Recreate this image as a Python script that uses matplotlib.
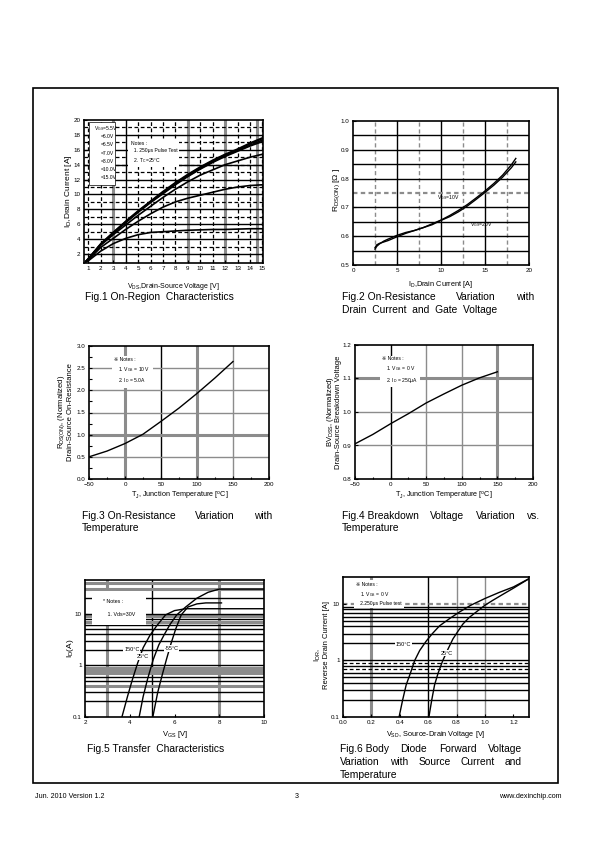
import matplotlib
matplotlib.use('Agg')
import matplotlib.pyplot as plt
import numpy as np

plt.rcParams['font.family'] = ['Liberation Sans', 'DejaVu Sans']
plt.rcParams['mathtext.fontset'] = 'custom'
plt.rcParams['mathtext.rm'] = 'Liberation Sans'
plt.rcParams['mathtext.it'] = 'Liberation Sans'
plt.rcParams['mathtext.default'] = 'regular'

# ---------------- data ----------------
# Fig.1 On-region characteristics
f1_vds = [0.8, 1, 2, 3, 4, 5, 6, 7, 8, 9, 10, 11, 12, 13, 14, 15]
f1_vgs15 = [1.0, 1.4, 3.4, 4.9, 6.4, 7.8, 9.1, 10.4, 11.6, 12.7, 13.7, 14.6, 15.4, 16.1, 16.9, 17.6]
f1_vgs10 = [1.0, 1.4, 3.3, 4.9, 6.3, 7.7, 9.0, 10.3, 11.5, 12.6, 13.6, 14.5, 15.3, 16.0, 16.8, 17.5]
f1_vgs8 = [1.0, 1.3, 3.3, 4.8, 6.3, 7.7, 9.0, 10.2, 11.4, 12.5, 13.5, 14.4, 15.2, 15.9, 16.6, 17.3]
f1_vgs7 = [1.0, 1.3, 3.3, 4.8, 6.2, 7.6, 8.9, 10.1, 11.3, 12.4, 13.4, 14.3, 15.1, 15.8, 16.5, 17.1]
f1_vgs65 = [1.0, 1.3, 3.2, 4.6, 5.9, 7.2, 8.4, 9.6, 10.7, 11.7, 12.6, 13.3, 14.0, 14.5, 15.0, 15.4]
f1_vgs6 = [1.0, 1.2, 2.9, 4.1, 5.3, 6.4, 7.4, 8.3, 9.0, 9.5, 9.9, 10.3, 10.7, 11.0, 11.2, 11.3]
f1_vgs55 = [1.0, 1.1, 2.4, 3.4, 4.1, 4.6, 4.9, 5.0, 5.1, 5.2, 5.25, 5.3, 5.3, 5.35, 5.4, 5.4]
f1_legend = ['=5.5V', '=6.0V', '=6.5V', '=7.0V', '=8.0V', '=10.0V', '=15.0V']

# Fig.2 On-resistance vs drain current
f2_id = [2.5, 2.7, 3, 3.5, 4, 5, 6, 7, 8, 9, 10, 11, 12, 13, 14, 15, 16, 17, 18, 18.5]
f2_r10 = [0.56, 0.57, 0.575, 0.58, 0.585, 0.598, 0.61, 0.62, 0.63, 0.643, 0.656, 0.672,
          0.69, 0.71, 0.733, 0.757, 0.783, 0.812, 0.848, 0.87]
f2_r20 = [0.555, 0.565, 0.573, 0.583, 0.59, 0.603, 0.613, 0.62, 0.63, 0.64, 0.655, 0.668,
          0.685, 0.705, 0.728, 0.752, 0.777, 0.805, 0.838, 0.858]

# Fig.3 / Fig.4 vs temperature
f34_tj = [-50, -25, 0, 25, 50, 75, 100, 125, 150]
f3_rn = [0.5, 0.63, 0.8, 1.01, 1.3, 1.6, 1.93, 2.28, 2.65]
f4_bv = [0.905, 0.933, 0.965, 0.995, 1.027, 1.054, 1.08, 1.102, 1.12]

# Fig.5 Transfer characteristics
f5_v150 = [3.65, 3.9, 4.1, 4.35, 4.6, 4.9, 5.2, 5.6, 6.0, 6.5, 10.0]
f5_i150 = [0.1, 0.25, 0.5, 1.1, 2.2, 3.8, 5.8, 9.5, 11.5, 12.5, 12.5]
f5_v25 = [4.42, 4.6, 4.8, 5.05, 5.3, 5.55, 5.8, 6.1, 6.5, 7.0, 7.5, 8.0, 10.0]
f5_i25 = [0.1, 0.25, 0.55, 1.3, 2.5, 4.0, 6.2, 9.5, 13.5, 20, 26, 30, 30]
f5_v55 = [5.03, 5.25, 5.45, 5.65, 5.85, 6.05, 6.3, 6.6, 7.0, 7.4, 8.1]
f5_i55 = [0.1, 0.3, 0.65, 1.35, 2.7, 5.0, 9.5, 13.5, 15.5, 16.2, 16.2]

# Fig.6 Body diode forward voltage
f6_v150 = [0.395, 0.42, 0.445, 0.475, 0.505, 0.54, 0.586, 0.63, 0.68, 0.75, 0.82, 0.9, 1.0, 1.1, 1.2, 1.31]
f6_i150 = [0.1, 0.2, 0.37, 0.6, 1.0, 1.5, 2.2, 3.0, 4.1, 5.5, 7.2, 9.5, 12.5, 16, 20, 28]
f6_v25 = [0.605, 0.625, 0.645, 0.67, 0.703, 0.74, 0.774, 0.81, 0.844, 0.89, 0.938, 1.0, 1.055, 1.12, 1.2, 1.31]
f6_i25 = [0.1, 0.2, 0.37, 0.6, 1.0, 1.6, 2.4, 3.3, 4.4, 5.8, 7.2, 9.5, 11.6, 14.5, 19, 28]

# ---------------- figure ----------------
W, H = 595, 842
fig = plt.figure(figsize=(W / 100, H / 100), dpi=100)

def axbox(x0, y0, x1, y1):
    return fig.add_axes([x0 / W, 1 - y1 / H, (x1 - x0) / W, (y1 - y0) / H])

def ft(x, y, s, **kw):
    return fig.text(x / W, 1 - y / H, s, **kw)

def style(ax, tsize=4.5):
    for s in ax.spines.values():
        s.set_linewidth(1.2)
        s.set_zorder(10)
    ax.tick_params(direction='in', length=2.5, width=0.8, labelsize=tsize, pad=2.5)
    ax.tick_params(which='minor', length=0)

GRAY = '#8c8c8c'

def vl(ax, x, kind):
    if kind == 'g':
        ax.axvline(x, color=GRAY, lw=2.2, zorder=1)
    elif kind == 'k':
        ax.axvline(x, color='black', lw=1.0, zorder=1)
    elif kind == 'd':
        ax.axvline(x, color='black', lw=0.9, ls=(0, (3, 2)), zorder=1)
    elif kind == 'gd':
        ax.axvline(x, color=GRAY, lw=1.0, ls=(0, (3, 2)), zorder=1)
    elif kind == 'gl':
        ax.axvline(x, color=GRAY, lw=1.0, zorder=1)

def hl(ax, y, kind):
    if kind == 'g':
        ax.axhline(y, color=GRAY, lw=2.2, zorder=1)
    elif kind == 'k':
        ax.axhline(y, color='black', lw=1.0, zorder=1)
    elif kind == 'd':
        ax.axhline(y, color='black', lw=0.9, ls=(0, (3, 2)), zorder=1)
    elif kind == 'gd':
        ax.axhline(y, color=GRAY, lw=1.6, ls=(0, (2, 1.5)), zorder=1)
    elif kind == 'gl':
        ax.axhline(y, color=GRAY, lw=1.0, zorder=1)

NOTE = dict(facecolor='white', edgecolor='none', pad=1.5)

# page border
fig.add_artist(plt.Rectangle((33 / W, 1 - 783 / H), (558 - 33) / W, (783 - 88) / H,
                             transform=fig.transFigure, fill=False, lw=1.2, ec='black'))

# ---------- Fig.1 ----------
ax1 = axbox(84, 120, 263, 263)
ax1.set_xlim(0.65, 15.05)
ax1.set_ylim(0.8, 20)
for x, k in zip(range(1, 16), ['d', 'd', 'g', 'k', 'd', 'd', 'd', 'd', 'g', 'd', 'd', 'g', 'd', 'd', 'd']):
    vl(ax1, x, k)
vl(ax1, 14.6, 'g')
for y in range(2, 20):
    hl(ax1, y, 'k' if y % 2 == 0 else 'd')
hl(ax1, 14, 'd')
for ys in [f1_vgs55, f1_vgs6, f1_vgs65, f1_vgs7, f1_vgs8, f1_vgs10, f1_vgs15]:
    ax1.plot(f1_vds, ys, color='black', lw=1.2, zorder=5)
ax1.set_xticks(range(1, 16))
ax1.set_yticks(range(2, 21, 2))
style(ax1)
# legend box
ax1.add_patch(plt.Rectangle((0.03, 0.545), 0.145, 0.44, transform=ax1.transAxes,
                            facecolor='white', edgecolor='black', lw=0.5, zorder=6))
lg_y = 0.94
ax1.text(0.055, lg_y, r'V$_{GS}$' + f1_legend[0], transform=ax1.transAxes, fontsize=3.6, zorder=7, va='center')
for i, s in enumerate(f1_legend[1:]):
    ax1.text(0.095, lg_y - (i + 1) * 0.057, s, transform=ax1.transAxes, fontsize=3.6, zorder=7, va='center')
ax1.text(0.26, 0.855, 'Notes :\n  1. 250\u03bcs Pulse Test\n  2. T$_C$=25\u00b0C', transform=ax1.transAxes,
         fontsize=3.6, zorder=7, va='top', linespacing=1.5, bbox=NOTE)
ft(68, 191, r'I$_D$,Drain Current [A]', rotation=90, fontsize=6, ha='center', va='center')
ft(173, 286, r'V$_{DS}$,Drain-Source Voltage [V]', fontsize=5.0, ha='center', va='center')

# ---------- Fig.2 ----------
ax2 = axbox(353, 121, 529, 265)
ax2.set_xlim(0, 20)
ax2.set_ylim(0.5, 1.0)
for x in [2.5, 7.5, 12.5, 17.5]:
    vl(ax2, x, 'gd')
for x in [5, 10, 15]:
    vl(ax2, x, 'k')
for y in [0.55, 0.6, 0.65, 0.7, 0.8, 0.85, 0.9, 0.95]:
    hl(ax2, y, 'k')
hl(ax2, 0.75, 'gd')
ax2.plot(f2_id, f2_r10, color='black', lw=1.0, zorder=5)
ax2.plot(f2_id, f2_r20, color='black', lw=1.0, zorder=5)
ax2.text(9.6, 0.73, r'V$_{GS}$=10V', fontsize=3.6, zorder=7)
ax2.text(13.3, 0.635, r'V$_{GS}$=20V', fontsize=3.6, zorder=7)
ax2.set_xticks([0, 5, 10, 15, 20])
ax2.set_yticks([0.5, 0.6, 0.7, 0.8, 0.9, 1.0])
ax2.set_yticklabels(['0.5', '0.6', '0.7', '0.8', '0.9', '1.0'])
style(ax2)
ft(337, 190, r'R$_{DS(ON)}$ [$\Omega$ ]', rotation=90, fontsize=6, ha='center', va='center')
ft(440, 285, r'I$_D$,Drain Current [A]', fontsize=5.3, ha='center', va='center')

# ---------- Fig.3 ----------
ax3 = axbox(89, 346, 269, 479)
ax3.set_xlim(-50, 200)
ax3.set_ylim(0, 3.0)
vl(ax3, 0, 'g'); vl(ax3, 50, 'k'); vl(ax3, 100, 'g'); vl(ax3, 150, 'gl')
for y in [0.5, 1.5, 2.0, 2.5]:
    hl(ax3, y, 'gl')
hl(ax3, 1.0, 'g')
ax3.plot(f34_tj, f3_rn, color='black', lw=1.0, zorder=5)
ax3.set_xticks([-50, 0, 50, 100, 150, 200])
ax3.set_xticks([-25, 25, 75, 125, 175], minor=True)
ax3.set_yticks([0, 0.5, 1.0, 1.5, 2.0, 2.5, 3.0])
ax3.set_yticks([0.25, 0.75, 1.25, 1.75, 2.25, 2.75], minor=True)
ax3.set_yticklabels(['0.0', '0.5', '1.0', '1.5', '2.0', '2.5', '3.0'])
style(ax3)
ax3.tick_params(which='minor', direction='in', length=1.8, width=0.8)
ax3.text(0.14, 0.92, '\u203b Notes :\n   1. V$_{GS}$ = 10 V\n   2. I$_D$ = 5.0A', transform=ax3.transAxes,
         fontsize=3.6, zorder=7, va='top', linespacing=1.5, bbox=NOTE)
ft(62, 412, r'R$_{DS(ON)}$, (Normalized)', rotation=90, fontsize=5.5, ha='center', va='center')
ft(71, 412, 'Drain-Source On-Resistance', rotation=90, fontsize=5.5, ha='center', va='center')
ft(180, 496, r'T$_J$, Junction Temperature [$^o$C]', fontsize=5.2, ha='center', va='center')

# ---------- Fig.4 ----------
ax4 = axbox(355, 345, 533, 479)
ax4.set_xlim(-50, 200)
ax4.set_ylim(0.8, 1.2)
vl(ax4, 0, 'k'); vl(ax4, 50, 'gl'); vl(ax4, 100, 'gl'); vl(ax4, 150, 'g')
hl(ax4, 0.9, 'gl'); hl(ax4, 1.0, 'gl'); hl(ax4, 1.1, 'g')
ax4.plot(f34_tj, f4_bv, color='black', lw=1.0, zorder=5)
ax4.set_xticks([-50, 0, 50, 100, 150, 200])
ax4.set_xticks([-25, 25, 75, 125, 175], minor=True)
ax4.set_yticks([0.8, 0.9, 1.0, 1.1, 1.2])
ax4.set_yticklabels(['0.8', '0.9', '1.0', '1.1', '1.2'])
style(ax4)
ax4.tick_params(which='minor', direction='in', length=1.8, width=0.8)
ax4.text(0.15, 0.92, '\u203b Notes :\n   1. V$_{GS}$ = 0 V\n   2. I$_D$ = 250\u03bcA', transform=ax4.transAxes,
         fontsize=3.6, zorder=7, va='top', linespacing=1.5, bbox=NOTE)
ft(330, 412, r'BV$_{DSS}$, (Normalized)', rotation=90, fontsize=5.5, ha='center', va='center')
ft(339, 412, 'Drain-Source Breakdown Voltage', rotation=90, fontsize=5.5, ha='center', va='center')
ft(444, 496, r'T$_J$, Junction Temperature [$^o$C]', fontsize=5.2, ha='center', va='center')

# ---------- Fig.5 ----------
ax5 = axbox(85, 580, 264, 717)
ax5.set_yscale('log')
ax5.set_xlim(2, 10)
ax5.set_ylim(0.1, 45)
vl(ax5, 3, 'g'); vl(ax5, 5, 'k'); vl(ax5, 8, 'g')
for y in [0.2, 0.3, 0.5, 0.6, 2, 3, 4, 5, 6, 8, 20]:
    hl(ax5, y, 'k')
for y in [0.4, 0.7, 0.8, 0.9, 7, 9, 30, 40]:
    hl(ax5, y, 'g')
hl(ax5, 1, 'k'); hl(ax5, 10, 'k')
ax5.plot(f5_v150, f5_i150, color='black', lw=1.0, zorder=5)
ax5.plot(f5_v25, f5_i25, color='black', lw=1.0, zorder=5)
ax5.plot(f5_v55, f5_i55, color='black', lw=1.0, zorder=5)
ax5.text(3.75, 2.0, '150\u00b0C', fontsize=4, zorder=7, va='center', bbox=dict(facecolor='white', edgecolor='none', pad=0.6))
ax5.text(4.3, 1.5, '25\u00b0C', fontsize=4, zorder=7, va='center', bbox=dict(facecolor='white', edgecolor='none', pad=0.6))
ax5.text(5.55, 2.1, '-55\u00b0C', fontsize=4, zorder=7, va='center', bbox=dict(facecolor='white', edgecolor='none', pad=0.6))
ax5.add_patch(plt.Rectangle((0.04, 0.67), 0.3, 0.25, transform=ax5.transAxes,
                            facecolor='white', edgecolor='none', zorder=6))
ax5.text(0.1, 0.86, '* Notes :\n\n   1. Vds=30V', transform=ax5.transAxes, fontsize=3.8, zorder=7,
         va='top', linespacing=1.3)
ax5.set_xticks([2, 4, 6, 8, 10])
ax5.set_yticks([0.1, 1, 10])
ax5.set_yticklabels(['0.1', '1', '10'])
ax5.minorticks_off()
style(ax5)
ft(70, 648, r'I$_D$(A)', rotation=90, fontsize=6, ha='center', va='center')
ft(175, 734, r'V$_{GS}$ [V]', fontsize=5.5, ha='center', va='center')

# ---------- Fig.6 ----------
ax6 = axbox(343, 577, 529, 717)
ax6.set_yscale('log')
ax6.set_xlim(0, 1.31)
ax6.set_ylim(0.1, 30)
vl(ax6, 0.2, 'g'); vl(ax6, 0.6, 'k'); vl(ax6, 0.8, 'gl'); vl(ax6, 1.0, 'gl')
for y in [0.2, 0.3, 0.4, 0.5, 0.6, 0.8, 2, 3, 4, 5, 6, 7, 8, 9]:
    hl(ax6, y, 'k')
hl(ax6, 0.7, 'd'); hl(ax6, 0.9, 'd'); hl(ax6, 10, 'gd'); hl(ax6, 1.0, 'k')
ax6.plot(f6_v150, f6_i150, color='black', lw=1.0, zorder=5)
ax6.plot(f6_v25, f6_i25, color='black', lw=1.0, zorder=5)
ax6.text(0.37, 1.9, '150\u00b0C', fontsize=4, zorder=7, va='center', bbox=dict(facecolor='white', edgecolor='none', pad=0.6))
ax6.text(0.69, 1.35, '25\u00b0C', fontsize=4, zorder=7, va='center', bbox=dict(facecolor='white', edgecolor='none', pad=0.6))
ax6.text(0.07, 0.965, '\u203b Notes :\n   1. V$_{GS}$ = 0 V\n   2.250\u03bcs Pulse test', transform=ax6.transAxes,
         fontsize=3.6, zorder=7, va='top', linespacing=1.5, bbox=NOTE)
ax6.set_xticks([0, 0.2, 0.4, 0.6, 0.8, 1.0, 1.2])
ax6.set_xticklabels(['0.0', '0.2', '0.4', '0.6', '0.8', '1.0', '1.2'])
ax6.set_yticks([0.1, 1, 10])
ax6.set_yticklabels(['0.1', '1', '10'])
ax6.minorticks_off()
style(ax6)
ft(318, 655, r'I$_{DR}$,', rotation=90, fontsize=5.5, ha='center', va='center')
ft(327, 645, 'Reverse Drain Current [A]', rotation=90, fontsize=5.5, ha='center', va='center')
ft(436, 735, r'V$_{SD}$, Source-Drain Voltage [V]', fontsize=5.3, ha='center', va='center')

# ---------- captions ----------
CAP = 7.35
renderer = fig.canvas.get_renderer()

def justify(words, x0, x1, y, size=CAP):
    texts = [ft(0, y, w, fontsize=size, ha='left', va='center') for w in words]
    widths = [t.get_window_extent(renderer).width for t in texts]
    gap = (x1 - x0 - sum(widths)) / (len(words) - 1)
    x = x0
    for t, w in zip(texts, widths):
        t.set_x(x / W)
        x += w + gap

ft(85, 297, 'Fig.1 On-Region  Characteristics', fontsize=CAP, va='center')
justify(['Fig.2 On-Resistance', 'Variation', 'with'], 342, 534, 297)
ft(342, 310, 'Drain  Current  and  Gate  Voltage', fontsize=CAP, va='center')
justify(['Fig.3 On-Resistance', 'Variation', 'with'], 82, 272, 516)
ft(82, 528, 'Temperature', fontsize=CAP, va='center')
justify(['Fig.4 Breakdown', 'Voltage', 'Variation', 'vs.'], 342, 540, 516)
ft(342, 528, 'Temperature', fontsize=CAP, va='center')
ft(87, 749, 'Fig.5 Transfer  Characteristics', fontsize=CAP, va='center')
justify(['Fig.6 Body', 'Diode', 'Forward', 'Voltage'], 340, 522, 749)
justify(['Variation', 'with', 'Source', 'Current', 'and'], 340, 522, 762)
ft(340, 775, 'Temperature', fontsize=CAP, va='center')

# ---------- footer ----------
ft(35, 797, 'Jun. 2010 Version 1.2', fontsize=5.1, va='center')
ft(297, 797, '3', fontsize=5.1, va='center', ha='center')
ft(562, 797, 'www.dexinchip.com', fontsize=5.1, va='center', ha='right')

fig.savefig('out.png', dpi=100)
